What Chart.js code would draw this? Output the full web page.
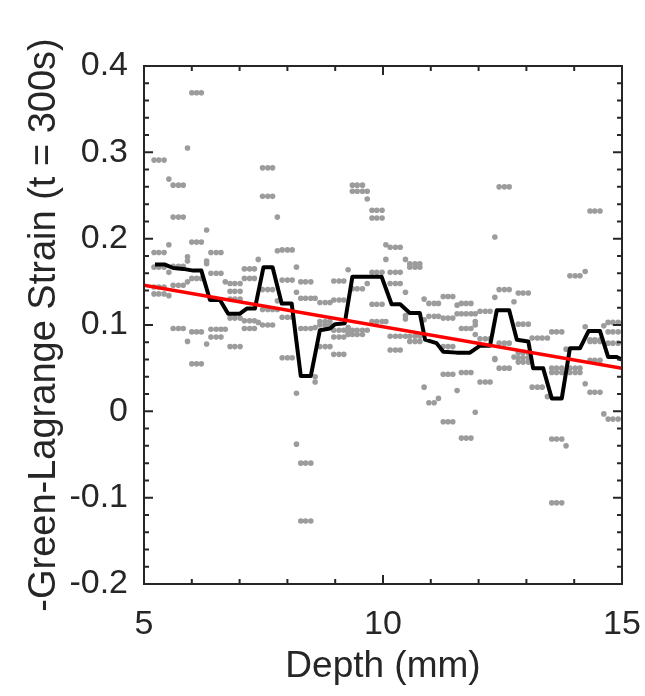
<!DOCTYPE html>
<html>
<head>
<meta charset="utf-8">
<script src="https://cdn.jsdelivr.net/npm/chart.js@4/dist/chart.umd.min.js"></script>
<style>
  html, body { margin: 0; padding: 0; background: #fff; }
  #wrap { width: 645px; height: 696px; }
</style>
</head>
<body>
<div id="wrap"><canvas id="strainChart" width="645" height="696"></canvas></div>
<script>
// axis ticks
const xTicks = [5, 10, 15];
const yTicks = [-0.2, -0.1, 0, 0.1, 0.2, 0.3, 0.4];

// raw strain samples: each group of depths shares the listed strain values
const dotGroupX = [
  [5.21, 5.31, 5.42], [5.52], [5.61, 5.72, 5.82], [5.91], [6.00, 6.10, 6.20], [6.31],
  [6.40, 6.51, 6.61], [6.70], [6.80, 6.90, 7.01], [7.10, 7.21, 7.31], [7.39],
  [7.48, 7.59, 7.69], [7.79], [7.89, 8.00, 8.10], [8.19], [8.28, 8.38, 8.49], [8.58],
  [8.68, 8.79, 8.89], [8.97, 9.08, 9.18], [9.27], [9.36, 9.46, 9.57], [9.67],
  [9.77, 9.87, 9.98], [10.06], [10.15, 10.26, 10.36], [10.47], [10.56, 10.67, 10.77],
  [10.86], [10.96, 11.07], [11.16], [11.26, 11.36, 11.46], [11.55], [11.64, 11.74, 11.84],
  [11.93], [12.03, 12.14, 12.24], [12.34], [12.43, 12.54, 12.64], [12.74],
  [12.83, 12.93, 13.04], [13.12, 13.23, 13.33], [13.44], [13.53, 13.63, 13.74], [13.83],
  [13.91, 14.02, 14.12], [14.23], [14.33, 14.43, 14.54], [14.62], [14.71, 14.81, 14.92]
];
const dotGroupY = [
  [0.291, 0.184, 0.167, 0.144, 0.136],
  [0.269, 0.193, 0.161, 0.134],
  [0.262, 0.225, 0.168, 0.146, 0.096],
  [0.305, 0.179, 0.174, 0.150, 0.081],
  [0.369, 0.196, 0.154, 0.092, 0.055],
  [0.210, 0.174, 0.171, 0.078],
  [0.184, 0.160, 0.095, 0.086],
  [0.150, 0.095],
  [0.148, 0.139, 0.130, 0.108, 0.075],
  [0.165, 0.154, 0.105, 0.096],
  [0.176, 0.103],
  [0.282, 0.249, 0.141, 0.118, 0.100],
  [0.225, 0.186, 0.128, 0.118],
  [0.187, 0.152, 0.109, 0.062],
  [0.167, 0.138, 0.021, -0.038],
  [0.150, 0.131, 0.096, -0.060, -0.127],
  [0.131, 0.097, 0.040, 0.034],
  [0.126, 0.104, 0.100, 0.075],
  [0.151, 0.129, 0.094, 0.086, 0.066],
  [0.164, 0.097, 0.092, 0.089],
  [0.262, 0.255, 0.142, 0.094, 0.089],
  [0.255, 0.246, 0.148, 0.094],
  [0.233, 0.224, 0.161, 0.124, 0.104],
  [0.193, 0.176, 0.104],
  [0.190, 0.161, 0.148, 0.087, 0.071],
  [0.176, 0.138, 0.111, 0.107, 0.087],
  [0.171, 0.167, 0.087, 0.081],
  [0.130, 0.106, 0.028],
  [0.125, 0.110, 0.010],
  [0.125, 0.110, 0.015],
  [0.133, 0.108, 0.075, 0.043, -0.012],
  [0.123, 0.113, 0.024],
  [0.125, 0.113, 0.096, 0.045, -0.031],
  [0.113, 0.104, 0.100, 0.089, -0.001],
  [0.116, 0.084, 0.034],
  [0.202, 0.132, 0.061, 0.060],
  [0.260, 0.141, 0.079, 0.050],
  [0.127, 0.063],
  [0.137, 0.101, 0.068, 0.062, 0.057],
  [0.085, 0.028],
  [0.085, 0.017],
  [0.092, 0.050, 0.045, -0.032, -0.106],
  [0.072, -0.040],
  [0.157, 0.050, 0.045],
  [0.162, 0.098, 0.032],
  [0.232, 0.083, 0.081, 0.059, 0.022],
  [0.099, -0.003],
  [0.103, 0.092, 0.079, -0.009]
];

// moving average (black)
const avgX = [5.23, 5.44, 5.61, 5.82, 6.03, 6.20, 6.38, 6.59, 6.76, 7.00, 7.15, 7.32, 7.50, 7.69,
  7.88, 8.09, 8.28, 8.49, 8.68, 8.89, 9.00, 9.20, 9.36, 9.97, 10.18, 10.36, 10.56, 10.77,
  10.88, 11.12, 11.26, 11.54, 11.82, 12.03, 12.24, 12.38, 12.64, 12.80, 13.04, 13.14,
  13.35, 13.53, 13.74, 13.91, 14.12, 14.30, 14.54, 14.71, 14.89, 14.99];
const avgY = [0.170, 0.170, 0.166, 0.165, 0.163, 0.163, 0.129, 0.129, 0.113, 0.113, 0.119, 0.119,
  0.167, 0.167, 0.125, 0.125, 0.041, 0.041, 0.094, 0.096, 0.101, 0.102, 0.156, 0.156, 0.124,
  0.124, 0.114, 0.114, 0.083, 0.079, 0.069, 0.068, 0.068, 0.076, 0.076, 0.117, 0.117, 0.083,
  0.081, 0.050, 0.050, 0.015, 0.015, 0.073, 0.073, 0.093, 0.093, 0.063, 0.063, 0.060];

// linear fit (red)
const fitX = [5, 15];
const fitY = [0.146, 0.050];

const textColor = "#262626";
const fontFamily = "'Liberation Sans', Arial, Helvetica, sans-serif";

const dots = [];
dotGroupX.forEach((xs, i) => {
  xs.forEach(x => dotGroupY[i].forEach(y => dots.push({x: x, y: y})));
});

// box + inward ticks, like the original figure
const boxTicks = {
  id: "boxTicks",
  afterDraw(chart){
    const {ctx, chartArea: a, scales: {x, y}} = chart;
    ctx.save();
    ctx.strokeStyle = textColor;
    ctx.lineWidth = 2;
    ctx.beginPath();
    for(let v = 5; v <= 15; v++){
      const px = x.getPixelForValue(v);
      const len = xTicks.includes(v) ? 9 : 5;
      ctx.moveTo(px, a.bottom); ctx.lineTo(px, a.bottom - len);
      ctx.moveTo(px, a.top); ctx.lineTo(px, a.top + len);
    }
    for(let k = -10; k <= 20; k++){
      const py = y.getPixelForValue(k * 0.02);
      const len = k % 5 === 0 ? 9 : 5;
      ctx.moveTo(a.left, py); ctx.lineTo(a.left + len, py);
      ctx.moveTo(a.right, py); ctx.lineTo(a.right - len, py);
    }
    ctx.stroke();
    ctx.strokeRect(a.left, a.top, a.right - a.left, a.bottom - a.top);
    ctx.restore();
  }
};

// keep the plot box fixed, labels may overhang it
function noPad(s){
  s.paddingLeft = 0; s.paddingRight = 0; s.paddingTop = 0; s.paddingBottom = 0;
}

new Chart(document.getElementById("strainChart"), {
  type: "scatter",
  data: {
    datasets: [
      {
        type: "line",
        data: fitX.map((v, i) => ({x: v, y: fitY[i]})),
        borderColor: "#ff0000",
        borderWidth: 3.5,
        pointRadius: 0
      },
      {
        type: "line",
        data: avgX.map((v, i) => ({x: v, y: avgY[i]})),
        borderColor: "#000000",
        borderWidth: 4,
        borderJoinStyle: "round",
        tension: 0,
        pointRadius: 0
      },
      {
        data: dots,
        backgroundColor: "#9c9c9c",
        borderWidth: 0,
        pointRadius: 2.8
      }
    ]
  },
  options: {
    responsive: false,
    animation: false,
    events: [],
    layout: {padding: {top: 66, right: 23, left: 0, bottom: 0}},
    plugins: {legend: {display: false}, tooltip: {enabled: false}},
    scales: {
      x: {
        type: "linear", min: 5, max: 15,
        afterBuildTicks: s => { s.ticks = xTicks.map(v => ({value: v})); },
        afterFit: s => { s.height = 112; noPad(s); },
        grid: {display: false, drawTicks: false},
        border: {display: false},
        ticks: {color: textColor, font: {family: fontFamily, size: 34}, padding: 20, maxRotation: 0},
        title: {display: true, text: "Depth (mm)", color: textColor,
          font: {family: fontFamily, size: 37}, padding: {top: 0, bottom: 7}}
      },
      y: {
        type: "linear", min: -0.2, max: 0.4,
        afterBuildTicks: s => { s.ticks = yTicks.map(v => ({value: v})); },
        afterFit: s => { s.width = 144; noPad(s); },
        grid: {display: false, drawTicks: false},
        border: {display: false},
        ticks: {color: textColor, font: {family: fontFamily, size: 34}, padding: 16,
          callback: v => String(+v.toFixed(1))},
        title: {display: true, text: "-Green-Lagrange Strain (t = 300s)", color: textColor,
          font: {family: fontFamily, size: 38}, padding: {top: 22, bottom: 0}}
      }
    }
  },
  plugins: [boxTicks]
});
</script>
</body>
</html>
